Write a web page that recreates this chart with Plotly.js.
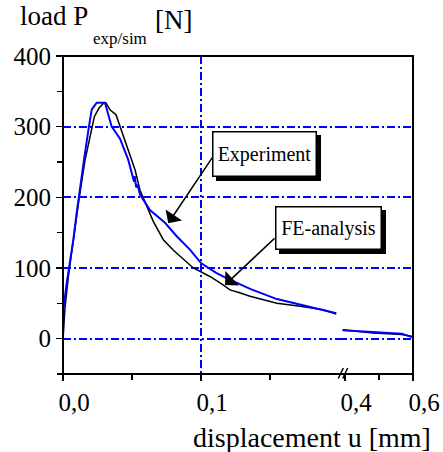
<!DOCTYPE html>
<html>
<head>
<meta charset="utf-8">
<script src="https://cdn.plot.ly/plotly-3.0.1.min.js"></script>
<style>html,body{margin:0;padding:0;background:#fff;}#chart{width:443px;height:452px;}</style>
</head>
<body>
<div id="chart"></div>
<script>
// ---- data (displacement in mm, load in N) ----
var expDispLeft = [0, 0.0002, 0.0027, 0.005, 0.0075, 0.0099, 0.0123, 0.0155, 0.0184, 0.0208, 0.0244, 0.0304, 0.0353, 0.0413, 0.0473, 0.050, 0.0515, 0.052, 0.053, 0.054, 0.0558, 0.063, 0.0739, 0.0824, 0.092, 0.100, 0.111, 0.117, 0.128, 0.136, 0.155, 0.172, 0.189, 0.198];
var expLoadLeft = [0, 41, 79, 107, 140, 178, 215, 257, 295, 324, 334, 334, 300, 283, 253, 232, 222, 230, 214, 218, 204, 182, 164, 145, 126, 107, 93, 87, 77, 70, 56, 48, 41, 36];
var expDispRight = [0.393, 0.434, 0.483, 0.523, 0.567, 0.586, 0.600];
var expLoadRight = [12, 11, 9, 8, 7, 4, 2];

var feDispLeft = [0, 0.0015, 0.004, 0.007, 0.0095, 0.0118, 0.016, 0.0212, 0.0227, 0.026, 0.0297, 0.031, 0.034, 0.0384, 0.0413, 0.0466, 0.0522, 0.0558, 0.0606, 0.0654, 0.0727, 0.080, 0.0944, 0.0993, 0.1065, 0.116, 0.121, 0.128, 0.1355, 0.155, 0.172, 0.1886, 0.198];
var feLoadLeft = [0, 45, 90, 135, 170, 200, 253, 300, 314, 326, 334, 334, 324, 317, 300, 272, 239, 210, 187, 166, 140, 125, 100, 95, 88, 76, 69, 65, 60, 50, 46, 41, 35];
var feDispRight = [0.393, 0.444, 0.483, 0.567, 0.600];
var feLoadRight = [12.5, 10, 8, 6, 3];

var yTickVals = [0, 100, 200, 300, 400];
var yMinorVals = [-50, 50, 150, 250, 350];
var xTickValsLeft = [0, 0.1];
var xTickTextLeft = ['0,0', '0,1'];
var xMinorLeft = [0.05, 0.15];
var xTickValsRight = [0.4, 0.6];
var xTickTextRight = ['0,4', '0,6'];
var xMinorRight = [0.5];

var SERIF = 'Liberation Serif';
var BLUE = '#0000ff';
var GRIDDASH = '8px,3px,2px,3px';

var traces = [
  {x: feDispLeft, y: feLoadLeft, xaxis: 'x', yaxis: 'y', mode: 'lines', line: {color: '#000', width: 1.5}, hoverinfo: 'skip'},
  {x: expDispLeft, y: expLoadLeft, xaxis: 'x', yaxis: 'y', mode: 'lines', line: {color: BLUE, width: 2}, hoverinfo: 'skip'},
  {x: feDispRight, y: feLoadRight, xaxis: 'x2', yaxis: 'y', mode: 'lines', line: {color: '#000', width: 1.5}, hoverinfo: 'skip'},
  {x: expDispRight, y: expLoadRight, xaxis: 'x2', yaxis: 'y', mode: 'lines', line: {color: BLUE, width: 2}, hoverinfo: 'skip'}
];

function tf() { return {family: SERIF, size: 25, color: '#000'}; }
var L = 276 / 350;
function px2x(px) { return (px - 63) / 350; }
function px2y(py) { return (374 - py) / 318; }

function boxAnn(text, x, y, w, h) {
  return [
    {text: text, xref: 'paper', yref: 'paper', x: x, y: y, xanchor: 'center', yanchor: 'middle', showarrow: false,
     width: w, height: h, bgcolor: '#000', bordercolor: '#000', borderwidth: 1.5, borderpad: 3, xshift: 4, yshift: -4,
     font: {family: SERIF, size: 20, color: '#000'}},
    {text: text, xref: 'paper', yref: 'paper', x: x, y: y, xanchor: 'center', yanchor: 'middle', showarrow: false,
     width: w, height: h, bgcolor: '#fff', bordercolor: '#000', borderwidth: 1.5, borderpad: 3,
     font: {family: SERIF, size: 20, color: '#000'}}
  ];
}

var annotations = [];
annotations.push({text: '', xref: 'x', yref: 'y', x: 0.0763, y: 163.5, ax: 45, ay: -67, showarrow: true,
  arrowhead: 1, arrowsize: 2.2, arrowwidth: 1.5, arrowcolor: '#000'});
annotations.push({text: '', xref: 'x', yref: 'y', x: 0.1174, y: 76, ax: 51, ay: -48, showarrow: true,
  arrowhead: 1, arrowsize: 2.2, arrowwidth: 1.5, arrowcolor: '#000'});
annotations = annotations.concat(boxAnn('Experiment', px2x(264.5), px2y(154), 96, 37));
annotations = annotations.concat(boxAnn('FE-analysis', px2x(328.5), px2y(228), 98, 35));
annotations.push({text: 'displacement u [mm]', xref: 'paper', yref: 'paper', x: px2x(433), y: px2y(420),
  xanchor: 'right', yanchor: 'top', showarrow: false, font: {family: SERIF, size: 28, color: '#000'}});
// subscript and unit of the load label
annotations.push({text: 'exp/sim', xref: 'paper', yref: 'paper', x: px2x(91), y: px2y(38), xanchor: 'left', yanchor: 'middle',
  showarrow: false, font: {family: SERIF, size: 17, color: '#000'}});
annotations.push({text: '[N]', xref: 'paper', yref: 'paper', x: px2x(153), y: px2y(20), xanchor: 'left', yanchor: 'middle',
  showarrow: false, font: {family: SERIF, size: 27, color: '#000'}});

var shapes = [
  {type: 'rect', xref: 'paper', yref: 'paper', x0: 0, x1: 1, y0: 0, y1: 1, line: {color: '#000', width: 2}, layer: 'above'},
  {type: 'line', xref: 'paper', yref: 'paper', x0: px2x(338.3), x1: px2x(343.3), y0: px2y(378.5), y1: px2y(368), line: {color: '#000', width: 1.5}, layer: 'above'},
  {type: 'line', xref: 'paper', yref: 'paper', x0: px2x(342.7), x1: px2x(347.7), y0: px2y(378.5), y1: px2y(368), line: {color: '#000', width: 1.5}, layer: 'above'}
];

var layout = {
  width: 443, height: 452,
  margin: {l: 63, r: 30, t: 56, b: 78, pad: 0},
  paper_bgcolor: '#fff', plot_bgcolor: '#fff',
  showlegend: false,
  font: {family: SERIF, color: '#000'},
  title: {text: 'load P', font: {family: SERIF, size: 27, color: '#000'},
          xref: 'container', yref: 'container', x: 20 / 443, xanchor: 'left', y: 1 - 6 / 452, yanchor: 'top', pad: {t: 0, l: 0}},
  xaxis: {domain: [0, L], range: [0, 0.2], anchor: 'y', tickmode: 'array', tickvals: xTickValsLeft, ticktext: xTickTextLeft,
          ticks: 'outside', ticklen: 6, tickwidth: 1.5, tickcolor: '#000', tickfont: tf(), ticklabelshift: 11,
          minor: {tickmode: 'array', tickvals: xMinorLeft, ticks: 'outside', ticklen: 5, tickwidth: 1.5, tickcolor: '#000', showgrid: false},
          showgrid: true, gridcolor: BLUE, gridwidth: 2, griddash: GRIDDASH, zeroline: false, showline: false, fixedrange: true},
  xaxis2: {domain: [L, 1], range: [0.4 - 6 * 0.2 / 68, 0.6], anchor: 'y', tickmode: 'array', tickvals: xTickValsRight, ticktext: xTickTextRight,
          ticks: 'outside', ticklen: 6, tickwidth: 1.5, tickcolor: '#000', tickfont: tf(), ticklabelshift: 11,
          minor: {tickmode: 'array', tickvals: xMinorRight, ticks: 'outside', ticklen: 5, tickwidth: 1.5, tickcolor: '#000', showgrid: false},
          showgrid: false, zeroline: false, showline: false, fixedrange: true},
  yaxis: {range: [-50, 400], anchor: 'x', tickmode: 'array', tickvals: yTickVals, ticksuffix: '\u00a0',
          ticks: 'outside', ticklen: 6, tickwidth: 1.5, tickcolor: '#000', tickfont: tf(),
          minor: {tickmode: 'array', tickvals: yMinorVals, ticks: 'outside', ticklen: 5, tickwidth: 1.5, tickcolor: '#000', showgrid: false},
          showgrid: true, gridcolor: BLUE, gridwidth: 2, griddash: GRIDDASH, zeroline: false, showline: false, fixedrange: true},
  annotations: annotations,
  shapes: shapes
};

Plotly.newPlot('chart', traces, layout, {staticPlot: true, displayModeBar: false});
</script>
</body>
</html>
